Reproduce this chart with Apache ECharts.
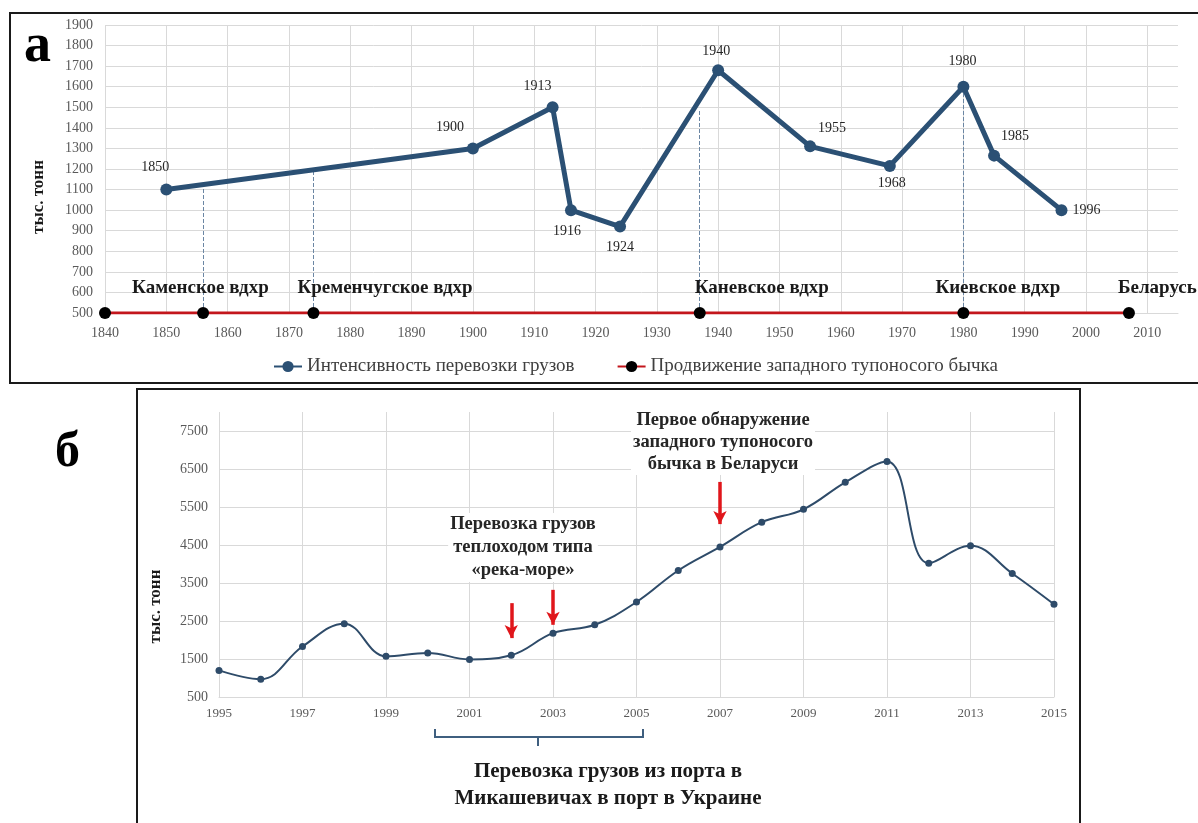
<!DOCTYPE html>
<html>
<head>
<meta charset="utf-8">
<script src="https://cdn.jsdelivr.net/npm/echarts@6/dist/echarts.min.js"></script>
<style>
  html, body { margin: 0; padding: 0; background: #fff; }
  #chart { width: 1198px; height: 823px; }
</style>
</head>
<body>
<div id="chart"></div>
<script>
"use strict";
// ---- панель а: интенсивность перевозки грузов ----
var yearsA = [1850, 1900, 1913, 1916, 1924, 1940, 1955, 1968, 1980, 1985, 1996];
var valuesA = [1100, 1300, 1500, 1000, 920, 1680, 1310, 1215, 1600, 1265, 1000];
// продвижение бычка (линия на уровне 500)
var gobyYears = [1840, 1856, 1874, 1937, 1980, 2007];
var gobyLevel = 500;
var gobyNames = ['', 'Каменское вдхр', 'Кременчугское вдхр', 'Каневское вдхр', 'Киевское вдхр', 'Беларусь'];
// пунктиры от водохранилищ вверх к линии
var damYears = [1856, 1874, 1937, 1980];
var damTops = [1130, 1200, 1485, 1600];

// ---- панель б ----
var yearsB = [1995, 1996, 1997, 1998, 1999, 2000, 2001, 2002, 2003, 2004, 2005,
              2006, 2007, 2008, 2009, 2010, 2011, 2012, 2013, 2014, 2015];
var valuesB = [1200, 970, 1830, 2430, 1570, 1660, 1490, 1600, 2180, 2400, 3000,
               3830, 4450, 5100, 5440, 6150, 6700, 4020, 4480, 3750, 2940];
// красные стрелки
var arrowYears = [2002, 2003, 2007];
var arrowFrom = [2970, 3320, 6160];
var arrowTo = [2050, 2400, 5050];

var serif = 'Liberation Serif';
var blueA = '#2b5074';
var blueB = '#2e4b69';
var redC = '#c3161c';
var gridC = '#d9d9d9';
var labelC = '#595959';

// подписи точек (положение)
var labelPlaceA = [
    ['top', [-11, -4]], ['top', [-23, -3]], ['top', [-15, -3]], ['bottom', [-4, 3]],
    ['bottom', [0, 3]], ['top', [-2, -1]], ['top', [22, 0]], ['bottom', [2, -1]],
    ['top', [-1, -7]], ['top', [21, -1]], ['right', [0, 0]]
];
var gobyOffsets = [0, -71, -16, -5, -28, -11];

function plain(v) { return String(v); }

function initChart() {
    var myChart = echarts.init(document.getElementById('chart'), null, { renderer: 'canvas' });

    var dataA = yearsA.map(function (y, i) {
        return {
            value: [y, valuesA[i]],
            label: { position: labelPlaceA[i][0], offset: labelPlaceA[i][1] }
        };
    });
    var dataGoby = gobyYears.map(function (y, i) {
        return {
            value: [y, gobyLevel],
            label: {
                show: gobyNames[i] !== '',
                formatter: gobyNames[i],
                position: 'top',
                align: 'left',
                offset: [gobyOffsets[i], -4]
            }
        };
    });
    var damLines = damYears.map(function (y, i) {
        return [{ coord: [y, gobyLevel] }, { coord: [y, damTops[i]] }];
    });
    var dataB = yearsB.map(function (y, i) { return [y, valuesB[i]]; });
    var arrows = arrowYears.map(function (y, i) {
        return [{ coord: [y, arrowFrom[i]] }, { coord: [y, arrowTo[i]] }];
    });

    var option = {
        animation: false,
        textStyle: { fontFamily: serif },
        grid: [
            { left: 105, right: 20, top: 25, height: 288 },
            { left: 219, right: 144, top: 412, height: 285 }
        ],
        legend: {
            left: 268, top: 352,
            itemWidth: 28, itemHeight: 14, itemGap: 42,
            textStyle: { fontFamily: serif, fontSize: 19, color: '#404040' },
            data: ['Интенсивность перевозки грузов', 'Продвижение западного тупоносого бычка']
        },
        xAxis: [
            {
                type: 'value', gridIndex: 0, min: 1840, max: 2015, interval: 10,
                axisLine: { lineStyle: { color: gridC } },
                axisTick: { show: false },
                axisLabel: {
                    color: labelC, fontSize: 14, fontFamily: serif, margin: 13,
                    formatter: function (v) { return v === 2015 ? '' : String(v); }
                },
                splitLine: { show: true, showMaxLine: false, lineStyle: { color: gridC } }
            },
            {
                type: 'value', gridIndex: 1, min: 1995, max: 2015, interval: 2,
                axisLine: { lineStyle: { color: gridC } },
                axisTick: { show: false },
                axisLabel: { color: labelC, fontSize: 13, fontFamily: serif, margin: 10, formatter: plain },
                splitLine: { show: true, lineStyle: { color: gridC } }
            }
        ],
        yAxis: [
            {
                type: 'value', gridIndex: 0, min: 500, max: 1900, interval: 100,
                name: 'тыс. тонн', nameLocation: 'middle', nameGap: 58, nameRotate: 90,
                nameTextStyle: {
                    fontFamily: serif, fontSize: 17, fontWeight: 'bold', color: '#1a1a1a',
                    padding: [0, 56, 0, 0]
                },
                axisLine: { show: false },
                axisTick: { show: false },
                axisLabel: { color: labelC, fontSize: 14, fontFamily: serif, margin: 12, formatter: plain },
                splitLine: { lineStyle: { color: gridC } }
            },
            {
                type: 'value', gridIndex: 1, min: 500, max: 8000, interval: 1000,
                name: 'тыс. тонн', nameLocation: 'middle', nameGap: 55, nameRotate: 90,
                nameTextStyle: {
                    fontFamily: serif, fontSize: 17, fontWeight: 'bold', color: '#1a1a1a',
                    padding: [0, 104, 0, 0]
                },
                axisLine: { show: false },
                axisTick: { show: false },
                axisLabel: {
                    color: labelC, fontSize: 14, fontFamily: serif, margin: 11,
                    formatter: function (v) { return v === 8000 ? '' : String(v); }
                },
                splitLine: { showMaxLine: false, lineStyle: { color: gridC } }
            }
        ],
        series: [
            {
                // пунктиры к водохранилищам, под точками
                name: 'dams',
                type: 'line', xAxisIndex: 0, yAxisIndex: 0,
                data: [],
                markLine: {
                    silent: true, z: 1, symbol: ['none', 'none'],
                    label: { show: false },
                    lineStyle: { color: '#6b86a3', type: 'dashed', width: 1 },
                    data: damLines
                },
                z: 1
            },
            {
                name: 'Продвижение западного тупоносого бычка',
                type: 'line', xAxisIndex: 0, yAxisIndex: 0,
                data: dataGoby,
                symbol: 'circle', symbolSize: 12,
                lineStyle: { color: redC, width: 3 },
                itemStyle: { color: '#000' },
                label: {
                    fontFamily: serif, fontSize: 19, fontWeight: 'bold', color: '#1a1a1a'
                },
                z: 3
            },
            {
                name: 'Интенсивность перевозки грузов',
                type: 'line', xAxisIndex: 0, yAxisIndex: 0,
                data: dataA,
                symbol: 'circle', symbolSize: 12,
                lineStyle: { color: blueA, width: 5 },
                itemStyle: { color: blueA },
                label: {
                    show: true, fontFamily: serif, fontSize: 14, color: '#262626',
                    formatter: function (p) { return p.value[0]; }
                },
                z: 4
            },
            {
                name: 'б',
                type: 'line', xAxisIndex: 1, yAxisIndex: 1,
                data: dataB, smooth: 0.4,
                symbol: 'circle', symbolSize: 7,
                lineStyle: { color: blueB, width: 2 },
                itemStyle: { color: blueB },
                markLine: {
                    silent: true, symbol: ['none', 'arrow'], symbolSize: [10, 13],
                    label: { show: false },
                    lineStyle: { color: '#e0161b', type: 'solid', width: 3.5 },
                    itemStyle: { color: '#e0161b' },
                    data: arrows
                }
            }
        ],
        graphic: [
            { type: 'rect', shape: { x: 10, y: 13, width: 1200, height: 370 },
              style: { fill: null, stroke: '#1a1a1a', lineWidth: 2 }, z: 100 },
            { type: 'rect', shape: { x: 137, y: 389, width: 943, height: 460 },
              style: { fill: null, stroke: '#1a1a1a', lineWidth: 2 }, z: 100 },
            { type: 'text', left: 24, top: 20,
              style: { text: 'а', font: 'bold 54px "Liberation Serif"', fill: '#000' } },
            { type: 'text', left: 55, top: 428,
              style: { text: 'б', font: 'bold 50px "Liberation Serif"', fill: '#000' } },
            { type: 'text', x: 523, y: 513, z: 50,
              style: { text: 'Перевозка грузов\nтеплоходом типа\n«река-море»', align: 'center',
                       font: 'bold 18.5px "Liberation Serif"', lineHeight: 23, fill: '#262626',
                       backgroundColor: '#fff', padding: [0, 2] } },
            { type: 'text', x: 723, y: 409, z: 50,
              style: { text: 'Первое обнаружение\nзападного тупоносого\nбычка в Беларуси', align: 'center',
                       font: 'bold 18.5px "Liberation Serif"', lineHeight: 22, fill: '#262626',
                       backgroundColor: '#fff', padding: [0, 2] } },
            { type: 'text', x: 608, y: 758,
              style: { text: 'Перевозка грузов из порта в\nМикашевичах в порт в Украине', align: 'center',
                       font: 'bold 21px "Liberation Serif"', lineHeight: 27, fill: '#1a1a1a' } },
            { type: 'polyline', shape: { points: [[435, 729], [435, 737], [643, 737], [643, 729]] },
              style: { stroke: '#3f5f7f', lineWidth: 2, fill: null } },
            { type: 'line', shape: { x1: 538, y1: 737, x2: 538, y2: 746 },
              style: { stroke: '#3f5f7f', lineWidth: 2 } }
        ]
    };
    myChart.setOption(option);
    return myChart;
}

initChart();
</script>
</body>
</html>
